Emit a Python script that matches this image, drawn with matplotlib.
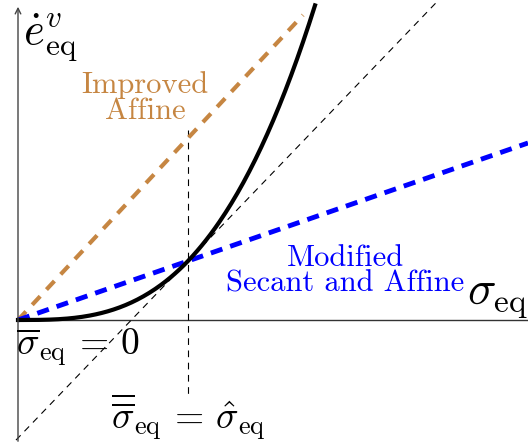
import numpy as np
import matplotlib.pyplot as plt

plt.rcParams['mathtext.fontset'] = 'cm'

# schematic data (arbitrary units, origin at the axes crossing)
x_tan = 170.0            # tangency / secant point
y_tan = 59.0
power = 3.0              # curve exponent
slope_affine = 1.07      # improved affine slope
x_max = 510.0
y_max = 320.0

k = y_tan / x_tan**power
slope_tan = power * y_tan / x_tan
slope_sec = y_tan / x_tan

fig = plt.figure(figsize=(5.28, 4.44), dpi=100)
ax = fig.add_axes([0, 0, 1, 1])
ax.set_xlim(-18, x_max)
ax.set_ylim(-124, y_max)
ax.axis('off')

# axes
ax.annotate('', xy=(0, 316), xytext=(0, -124),
            arrowprops=dict(arrowstyle='->', color='#444444', lw=1.0))
ax.plot([0, x_max], [0, 0], color='#333333', lw=1.0)

# tangent line and vertical marker
xs = np.linspace(-2, 420, 50)
ax.plot(xs, y_tan + slope_tan * (xs - x_tan), 'k--', lw=0.8, dashes=(6, 5))
ax.plot([x_tan, x_tan], [190, -75], 'k--', lw=0.8, dashes=(6, 5))

# improved affine
xa = np.linspace(0, 285, 20)
ax.plot(xa, slope_affine * xa, color='#c68642', lw=3, ls='--', dashes=(2.8, 2.2))

# modified secant
xb = np.linspace(0, x_max, 20)
ax.plot(xb, slope_sec * xb, color='#0000ff', lw=3.5, ls='--', dashes=(2.5, 1.7))

# response curve
xc = np.linspace(0, 297, 200)
ax.plot(xc, k * xc**power, 'k', lw=3)

# labels
ax.text(32, 282, r'$\dot{e}^v_{\rm eq}$', fontsize=32, va='center', ha='center')
ax.text(480, 23, r'$\sigma_{\rm eq}$', fontsize=34, va='center', ha='center')
ax.text(60, -27, r'$\overline{\sigma}_{\rm eq} \,=\, 0$', fontsize=27,
        va='center', ha='center')
ax.text(170, -97, r'$\overline{\overline{\sigma}}_{\rm eq} \,=\, \hat{\sigma}_{\rm eq}$',
        fontsize=27, va='center', ha='center')
ax.text(127, 222, 'Improved\nAffine', fontsize=22, color='#c68642', family='cmr10',
        ha='center', va='center', linespacing=0.9)
ax.text(327, 49, 'Modified\nSecant and Affine', fontsize=22, color='#0000ff',
        family='cmr10', ha='center', va='center', linespacing=0.9)

fig.savefig('out.png', dpi=100)
